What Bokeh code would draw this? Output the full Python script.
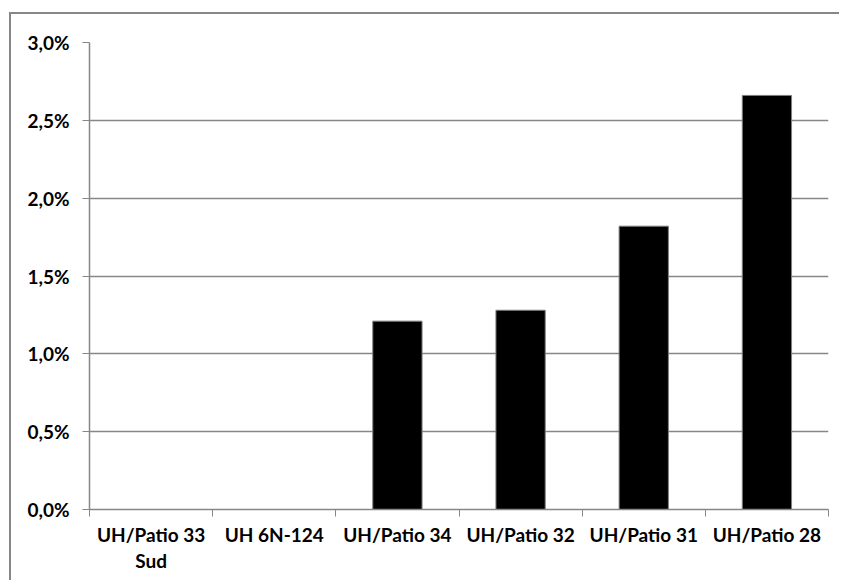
from bokeh.plotting import figure
from bokeh.models import Range1d, FixedTicker
from bokeh.embed import file_html
from bokeh.resources import INLINE

categories = ["UH/Patio 33\nSud", "UH 6N-124", "UH/Patio 34", "UH/Patio 32", "UH/Patio 31", "UH/Patio 28"]
values = [0.0, 0.0, 1.21, 1.28, 1.82, 2.66]
y_ticks = [0.0, 0.5, 1.0, 1.5, 2.0, 2.5, 3.0]
y_tick_labels = ["0,0%", "0,5%", "1,0%", "1,5%", "2,0%", "2,5%", "3,0%"]

GRAY = "#878787"
FONT = "Lato"

n = len(categories)
xs = [i + 0.5 for i in range(n)]

p = figure(width=830, height=568, output_backend="svg", toolbar_location=None,
           x_range=Range1d(0, n), y_range=Range1d(0, 3.0),
           min_border_left=78, min_border_right=13, min_border_top=28, min_border_bottom=73)
p.styles = {"margin-left": "9px", "margin-top": "12px",
            "border-left": f"2px solid {GRAY}", "border-top": f"2px solid {GRAY}",
            "border-right": "0px none", "border-bottom": "0px none", "outline": "none",
            "box-shadow": "none"}
p.outline_line_color = None
p.background_fill_color = "white"
p.border_fill_color = "white"

p.vbar(x=xs, top=values, width=0.4, fill_color="black", line_color="#7f7f7f", line_width=1)

# x axis
p.xaxis.ticker = FixedTicker(ticks=xs, minor_ticks=list(range(n + 1)))
p.xaxis.major_label_overrides = {x: c for x, c in zip(xs, categories)}
p.xaxis.major_tick_out = 0
p.xaxis.major_tick_in = 0
p.xaxis.minor_tick_out = 7
p.xaxis.minor_tick_in = 0
p.xaxis.minor_tick_line_color = GRAY
p.xaxis.axis_line_color = GRAY
p.xaxis.axis_line_width = 1.5
p.xaxis.major_label_text_font = FONT
p.xaxis.major_label_text_font_style = "bold"
p.xaxis.major_label_text_font_size = "19px"
p.xaxis.major_label_text_color = "black"
p.xaxis.major_label_standoff = 6
p.xaxis.major_label_text_line_height = 1.15

# y axis
p.yaxis.ticker = FixedTicker(ticks=y_ticks, minor_ticks=[])
p.yaxis.major_label_overrides = {t: l for t, l in zip(y_ticks, y_tick_labels)}
p.yaxis.major_tick_out = 7
p.yaxis.major_tick_in = 0
p.yaxis.major_tick_line_color = GRAY
p.yaxis.axis_line_color = GRAY
p.yaxis.axis_line_width = 1.5
p.yaxis.major_label_text_font = FONT
p.yaxis.major_label_text_font_style = "bold"
p.yaxis.major_label_text_font_size = "19px"
p.yaxis.major_label_text_color = "black"
p.yaxis.major_label_standoff = 13

p.xgrid.grid_line_color = None
p.ygrid.ticker = FixedTicker(ticks=y_ticks)
p.ygrid.grid_line_color = GRAY
p.ygrid.grid_line_width = 1.5

open("out.html", "w").write(file_html(p, INLINE))
